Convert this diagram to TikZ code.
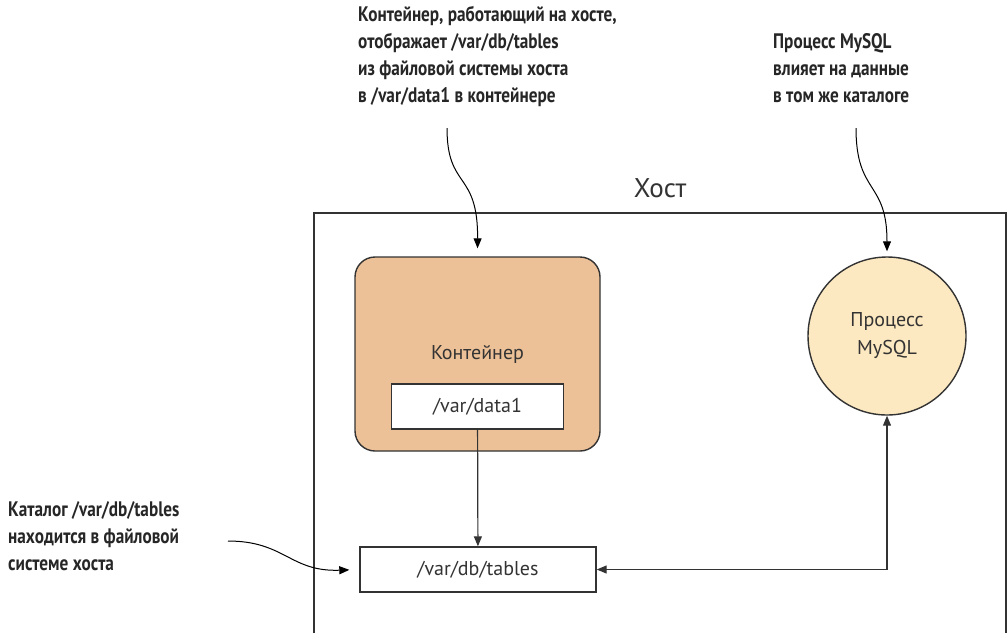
\documentclass[tikz,border=0pt]{standalone}
\usepackage{fontspec}
\setmainfont{PT Sans}
\newfontfamily\notefont[FakeStretch=0.82]{PT Sans}
\usetikzlibrary{arrows.meta}

\definecolor{inkgray}{HTML}{333333}
\definecolor{contfill}{HTML}{EDC198}
\definecolor{procfill}{HTML}{FDE9C1}

\begin{document}
\begin{tikzpicture}[x=1pt,y=-1pt,
        pathbox/.style={draw=inkgray,line width=1.4pt,fill=white,text=inkgray,
            minimum height=45pt,inner sep=0pt,font=\fontsize{20}{26}\selectfont},
        note/.style={anchor=north west,align=left,inner sep=0pt,text=black!85,
            font=\notefont\bfseries\fontsize{21}{27}\selectfont},
        link/.style={draw=inkgray,line width=1.2pt,-{Triangle[length=10pt,width=8pt]}},
        callout/.style={draw=black,line width=1pt,-{Triangle[length=10pt,width=8pt]}}]

        \useasboundingbox (0,0) rectangle (1008,633);

        % host frame, open at the bottom
        \draw[inkgray,line width=1.4pt] (314,633) -- (314,213) -- (1006,213) -- (1006,633);
        \node[text=inkgray,font=\fontsize{27}{30}\selectfont] (host) at (660,188) {Хост};

        % container with its mount point
        \node[draw=inkgray,line width=1.4pt,fill=contfill,rounded corners=20pt,
            minimum width=245pt,minimum height=194pt,text=inkgray,
            font=\fontsize{20}{26}\selectfont] (cont) at (477.5,354) {Контейнер};
        \node[pathbox,minimum width=172pt] (data1) at (477.5,406.5) {/var/data1};

        % host directory and process
        \node[pathbox,minimum width=236pt] (tables) at (478,569.5) {/var/db/tables};
        \node[circle,draw=inkgray,line width=1.4pt,fill=procfill,minimum size=158pt,
            inner sep=0pt,align=center,text=inkgray,
            font=\fontsize{20}{28}\selectfont] (proc) at (887,336) {Процесс\\MySQL};

        \draw[link] (data1) -- (tables);
        \draw[link,{Triangle[length=10pt,width=8pt]}-{Triangle[length=10pt,width=8pt]}]
            (proc.south) -- (proc.south |- tables.east) -- (tables.east);

        % notes
        \node[note] (contnote) at (358,6)
            {Контейнер, работающий на хосте,\\отображает /var/db/tables\\из файловой системы хоста\\в /var/data1 в контейнере};
        \node[note] (procnote) at (773,33)
            {Процесс MySQL\\влияет на данные\\в том же каталоге};
        \node[note] (tablesnote) at (8,501)
            {Каталог /var/db/tables\\находится в файловой\\системе хоста};

        \coordinate (contnote-end) at (447,128);
        \coordinate (procnote-end) at (856,128);
        \coordinate (tablesnote-end) at (228,541);

        \draw[callout,shorten >=8pt] (contnote-end) .. controls (447,190) and (478,170) .. (cont.north);
        \draw[callout,shorten >=5pt] (procnote-end) .. controls (856,195) and (887,180) .. (proc.north);
        \draw[callout,shorten >=10pt] (tablesnote-end) .. controls (285,541) and (290,572) .. (tables.west);
    \end{tikzpicture}
\end{document}
